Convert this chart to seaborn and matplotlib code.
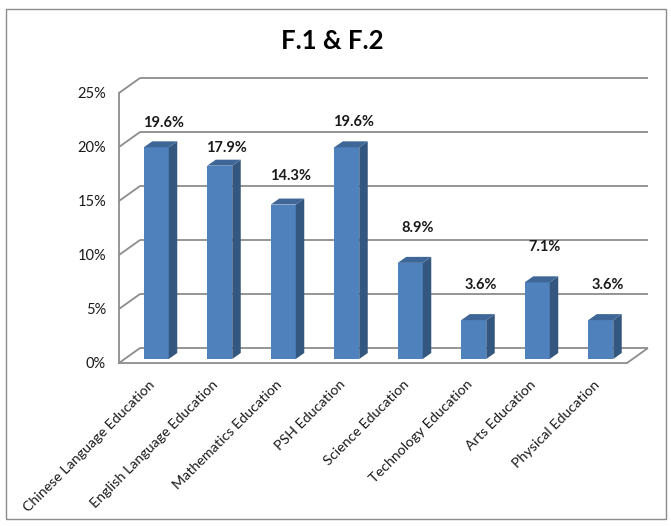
import numpy as np
import pandas as pd
import matplotlib
matplotlib.use("Agg")
import matplotlib.pyplot as plt
import matplotlib.transforms as mtransforms
from matplotlib.patches import Polygon, Rectangle
import seaborn as sns

# ---- data -------------------------------------------------------------
categories = [
    "Chinese Language Education",
    "English Language Education",
    "Mathematics Education",
    "PSH Education",
    "Science Education",
    "Technology Education",
    "Arts Education",
    "Physical Education",
]
shares = [19.6, 17.9, 14.3, 19.6, 8.9, 3.6, 7.1, 3.6]
y_ticks = [0, 5, 10, 15, 20, 25]
title = "F.1 & F.2"

# ---- style --------------------------------------------------------------
sns.set_style("white")
plt.rcParams["font.family"] = ["Lato", "DejaVu Sans"]

FRONT = "#4F81BD"
SIDE = "#34577F"
TOP = "#3E6798"
GRID = "#8C8C8C"
TEXT = "#1A1A1A"

W, H = 671, 526
fig = plt.figure(figsize=(W / 100, H / 100), dpi=100)
fig.patch.set_facecolor("white")

# front plane of the plot area, in pixels
X0, X1, Y0, Y1 = 119, 627, 363, 93
ax = fig.add_axes([X0 / W, 1 - Y0 / H, (X1 - X0) / W, (Y0 - Y1) / H])

df = pd.DataFrame({"subject": categories, "share": shares})
n = len(categories)
SX = (X1 - X0) / n          # pixels per category
SY = (Y0 - Y1) / y_ticks[-1]  # pixels per percent

BAR_W = 25
sns.barplot(data=df, x="subject", y="share", color=FRONT, saturation=1,
            width=BAR_W / SX, ax=ax, zorder=3, linewidth=0)
ax.set_xlim(-0.5, n - 0.5)
ax.set_ylim(0, y_ticks[-1])


def px(d):
    return d / SX


def py(d):
    return d / SY


# ---- walls and floor (pseudo-3D) --------------------------------------
WALL_DX, WALL_DY = 21, 15
lkw = dict(color=GRID, lw=1.3, clip_on=False, zorder=1, solid_capstyle="butt")
for t in y_ticks:
    ax.plot([-0.5 + px(WALL_DX), n - 0.5 + px(WALL_DX)],
            [t + py(WALL_DY), t + py(WALL_DY)], **lkw)
    ax.plot([-0.5, -0.5 + px(WALL_DX)], [t, t + py(WALL_DY)], **lkw)
ax.plot([n - 0.5, n - 0.5 + px(WALL_DX)], [0, py(WALL_DY)], **lkw)

# ---- bars with side and top faces -------------------------------------
BAR_DX, BAR_DY = 5.5, 4
DEPTH_DX, DEPTH_DY = 8.5, 6
label_lift = [24, 18, 29, 25, 35, 35, 35, 35]

for p, v, lift in zip(ax.patches, shares, label_lift):
    x0 = p.get_x() + px(BAR_DX)
    y0 = py(BAR_DY)
    w = p.get_width()
    h = p.get_height()
    p.set_x(x0)
    p.set_y(y0)
    ddx, ddy = px(DEPTH_DX), py(DEPTH_DY)
    side = Polygon([(x0 + w, y0), (x0 + w, y0 + h),
                    (x0 + w + ddx, y0 + h + ddy), (x0 + w + ddx, y0 + ddy)],
                   closed=True, facecolor=SIDE, edgecolor="none", zorder=3,
                   clip_on=False)
    top = Polygon([(x0, y0 + h), (x0 + w, y0 + h),
                   (x0 + w + ddx, y0 + h + ddy), (x0 + ddx, y0 + h + ddy)],
                  closed=True, facecolor=TOP, edgecolor="none", zorder=3,
                  clip_on=False)
    ax.add_patch(side)
    ax.add_patch(top)
    ax.text(x0 + w / 2 + px(7), y0 + h + py(lift), f"{v:.1f}%",
            ha="center", va="center", fontsize=10.5, fontweight="bold",
            color=TEXT, zorder=5, clip_on=False)

# ---- axes -------------------------------------------------------------
for s in ["top", "right"]:
    ax.spines[s].set_visible(False)
for s in ["left", "bottom"]:
    ax.spines[s].set_color(GRID)
    ax.spines[s].set_linewidth(1.3)
    ax.spines[s].set_zorder(2)

ax.set_yticks(y_ticks, labels=[f"{t}%" for t in y_ticks])
ax.tick_params(axis="y", length=4.3, width=1, color=GRID, pad=5,
               labelsize=10.5, labelcolor=TEXT)

ax.set_xticks(range(n), labels=categories)
ax.set_xticks(np.arange(-0.5, n, 1), minor=True)
ax.tick_params(axis="x", which="major", length=0, pad=14,
               labelsize=10.3, labelcolor=TEXT)
ax.tick_params(axis="x", which="minor", length=6, width=1, color=GRID,
               direction="out")
shift = mtransforms.ScaledTranslation(2 / 100, 0, fig.dpi_scale_trans)
for lbl in ax.get_xticklabels():
    lbl.set_rotation(45)
    lbl.set_ha("right")
    lbl.set_va("center")
    lbl.set_rotation_mode("anchor")
    lbl.set_transform(lbl.get_transform() + shift)

ax.set_xlabel("")
ax.set_ylabel("")
ax.grid(False)

# ---- title and chart-area frame ---------------------------------------
fig.text(332 / W, 1 - 41 / H, title, ha="center", va="center",
         fontsize=18.5, fontweight="bold", color="black")
fig.patches.append(Rectangle((6 / W, 1 - 519 / H), 660 / W, 510 / H,
                             transform=fig.transFigure, fill=False,
                             edgecolor="#8C8C8C", lw=1))

fig.savefig("out.png", dpi=100)
